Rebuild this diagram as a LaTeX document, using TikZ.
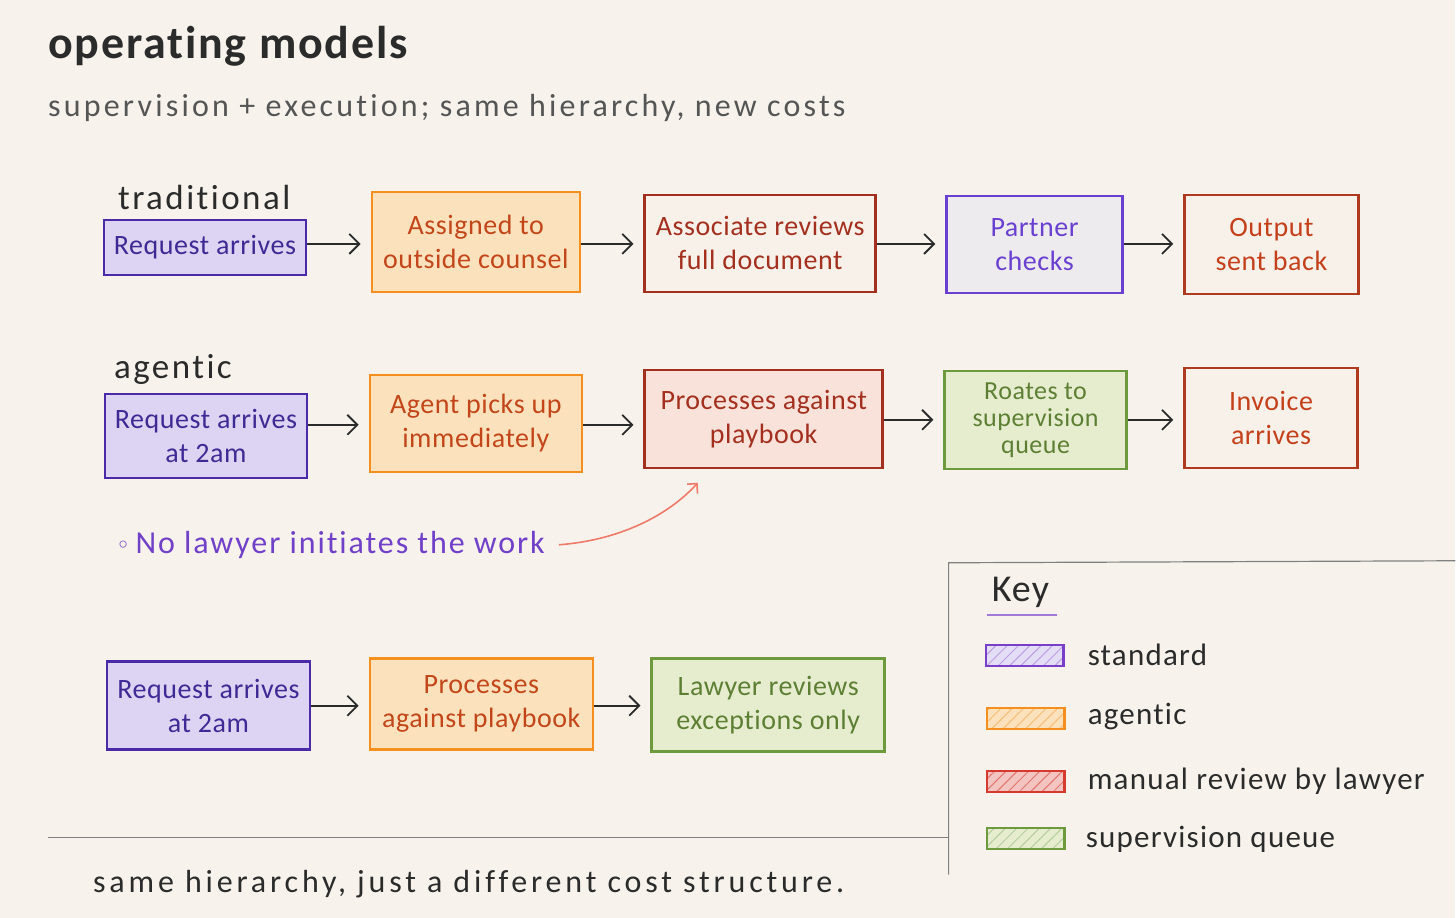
\documentclass[tikz,border=0pt]{standalone}
\usepackage{fontspec}
\setmainfont{Carlito}[Ligatures=NoCommon]
\newfontfamily\symfont{DejaVu Sans}
\usepackage{tikz}
\usetikzlibrary{arrows.meta,patterns.meta}

\definecolor{paper}{HTML}{F7F3EC}
\definecolor{ink}{HTML}{2B2B2B}
\definecolor{stdline}{HTML}{4B2AA8}
\definecolor{stdfill}{HTML}{DCD4F2}
\definecolor{stdtext}{HTML}{3E2A95}
\definecolor{prtline}{HTML}{6A40D0}
\definecolor{prtfill}{HTML}{EEEBEF}
\definecolor{agtline}{HTML}{F5901E}
\definecolor{agtfill}{HTML}{FCE2BC}
\definecolor{agttext}{HTML}{C2461A}
\definecolor{revline}{HTML}{A3301F}
\definecolor{revfill}{HTML}{F8F1EA}
\definecolor{revpink}{HTML}{F8E2DA}
\definecolor{outline}{HTML}{B03A1F}
\definecolor{outtext}{HTML}{C4401A}
\definecolor{supline}{HTML}{6E9A3E}
\definecolor{supfill}{HTML}{E6EDCF}
\definecolor{suptext}{HTML}{5D7F33}
\definecolor{notetext}{HTML}{7040C8}
\definecolor{notearr}{HTML}{F07A6A}
\definecolor{keypurple}{HTML}{7A3FC8}
\definecolor{keyred}{HTML}{D63A2E}

\begin{document}
\begin{tikzpicture}[x=1pt,y=-1pt,
	box/.style={draw,line width=2.5pt,align=center,inner sep=0pt,
		font=\fontsize{28}{34}\selectfont\addfontfeatures{LetterSpace=2}},
	stdbox/.style={box,draw=stdline,fill=stdfill,text=stdtext},
	prtbox/.style={box,draw=prtline,fill=prtfill,text=prtline},
	agtbox/.style={box,draw=agtline,fill=agtfill,text=agttext},
	revbox/.style={box,draw=revline,fill=revfill,text=revline},
	outbox/.style={box,draw=outline,fill=revfill,text=outtext},
	supbox/.style={box,draw=supline,fill=supfill,text=suptext},
	flow/.style={draw=ink,line width=1.8pt,shorten >=10pt,
		-{Straight Barb[length=10pt,width=20pt,line width=1.8pt]}},
	rowlabel/.style={anchor=west,inner sep=0pt,text=ink,
		font=\fontsize{35}{35}\selectfont\addfontfeatures{LetterSpace=7}},
	swatch/.style={line width=2.2pt,minimum width=78pt,minimum height=21pt,inner sep=0pt},
	keytext/.style={anchor=west,inner sep=0pt,text=ink,
		font=\fontsize{31}{31}\selectfont\addfontfeatures{LetterSpace=4}}]

	\fill[paper] (0,0) rectangle (1456,918);

	\node[anchor=west,inner sep=0pt,text=ink,font=\fontsize{46}{46}\selectfont\bfseries\addfontfeatures{LetterSpace=4}] (title) at (48,46) {operating models};
	\node[anchor=west,inner sep=0pt,text=ink!80,font=\fontsize{32}{32}\selectfont\addfontfeatures{LetterSpace=10}] (subtitle) at (48,108) {supervision + execution; same hierarchy, new costs};

	% traditional
	\node[rowlabel] (trad) at (118,198) {traditional};
	\node[stdbox,minimum width=202pt,minimum height=55pt] (t1) at (205,247.5) {Request arrives};
	\node[agtbox,minimum width=208pt,minimum height=100pt] (t2) at (476,242) {Assigned to\\outside counsel};
	\node[revbox,minimum width=231pt,minimum height=97pt] (t3) at (760.5,243.5) {Associate reviews\\full document};
	\node[prtbox,minimum width=176pt,minimum height=97pt] (t4) at (1035,244.5) {Partner\\checks};
	\node[outbox,minimum width=174pt,minimum height=99pt] (t5) at (1272,244.5) {Output\\sent back};

	\draw[flow] (t1.east |- 0,244) -- (t2.west |- 0,244);
	\draw[flow] (t2.east |- 0,244) -- (t3.west |- 0,244);
	\draw[flow] (t3.east |- 0,244) -- (t4.west |- 0,244);
	\draw[flow] (t4.east |- 0,244) -- (t5.west |- 0,244);

	% agentic
	\node[rowlabel] (agen) at (114,370) {agentic};
	\node[stdbox,minimum width=202pt,minimum height=84pt] (a1) at (206,436) {Request arrives\\at 2am};
	\node[agtbox,minimum width=212pt,minimum height=97pt] (a2) at (476,423.5) {Agent picks up\\immediately};
	\node[revbox,fill=revpink,minimum width=238pt,minimum height=98pt] (a3) at (764,419) {Processes against\\playbook};
	\node[supbox,minimum width=182pt,minimum height=98pt,font=\fontsize{26}{27}\selectfont\addfontfeatures{LetterSpace=2}] (a4) at (1036,420) {Roates to\\supervision\\queue};
	\node[outbox,minimum width=173pt,minimum height=100pt] (a5) at (1271.5,418) {Invoice\\arrives};

	\draw[flow] (a1.east |- 0,425) -- (a2.west |- 0,425);
	\draw[flow] (a2.east |- 0,425) -- (a3.west |- 0,425);
	\draw[flow] (a3.east |- 0,420) -- (a4.west |- 0,420);
	\draw[flow] (a4.east |- 0,420) -- (a5.west |- 0,420);

	\node[anchor=west,inner sep=0pt,text=notetext,font=\fontsize{32}{32}\selectfont\addfontfeatures{LetterSpace=6}] (note) at (116,545) {{\symfont\fontsize{24}{24}\selectfont ◦}\,No lawyer initiates the work};
	\coordinate (hint) at (698,483);
	\draw[notearr,line width=1.6pt,-{Straight Barb[length=7pt,width=14pt,line width=1.6pt]}]
		([xshift=14pt]note.east) .. controls (625,540) and (672,512) .. (hint);

	% third row
	\node[stdbox,minimum width=203pt,minimum height=88pt] (s1) at (208.5,706) {Request arrives\\at 2am};
	\node[agtbox,minimum width=223pt,minimum height=91pt] (s2) at (481.5,704.5) {Processes\\against playbook};
	\node[supbox,minimum width=233pt,minimum height=93pt] (s3) at (768.5,705.5) {Lawyer reviews\\exceptions only};

	\draw[flow] (s1.east |- 0,706) -- (s2.west |- 0,706);
	\draw[flow] (s2.east |- 0,706) -- (s3.west |- 0,706);

	% key
	\coordinate (kc) at (949,838);
	\draw[ink!60,line width=1.2pt] (48,838) -- (kc);
	\draw[ink!60,line width=1.2pt] (949,875) -- (949,563) -- (1456,561);
	\node[anchor=west,inner sep=0pt,text=ink,font=\fontsize{38}{38}\selectfont\addfontfeatures{LetterSpace=3}] (key) at (992,593) {Key};
	\draw[keypurple!70,line width=2pt] (987,615) -- (1057,615);

	\node[swatch,draw=keypurple,preaction={fill=stdfill!80},pattern={Lines[angle=45,distance=8pt,line width=1pt]},pattern color=keypurple!50] (k1) at (1025,656) {};
	\node[swatch,draw=agtline,preaction={fill=agtfill},pattern={Lines[angle=45,distance=8pt,line width=1pt]},pattern color=agtline!60] (k2) at (1026,719) {};
	\node[swatch,draw=keyred,preaction={fill=keyred!30},pattern={Lines[angle=45,distance=8pt,line width=1pt]},pattern color=keyred!70] (k3) at (1026,782) {};
	\node[swatch,draw=supline,preaction={fill=supfill},pattern={Lines[angle=45,distance=8pt,line width=1pt]},pattern color=supline!50] (k4) at (1026,839) {};

	\node[keytext] (k1t) at (1088,655) {standard};
	\node[keytext] (k2t) at (1088,717) {agentic};
	\node[keytext] (k3t) at (1088,782) {manual review by lawyer};
	\node[keytext] (k4t) at (1086,840) {supervision queue};

	\node[anchor=west,inner sep=0pt,text=ink,font=\fontsize{32}{32}\selectfont\addfontfeatures{LetterSpace=12}] (footer) at (93,884) {same hierarchy, just a different cost structure.};

\end{tikzpicture}
\end{document}
